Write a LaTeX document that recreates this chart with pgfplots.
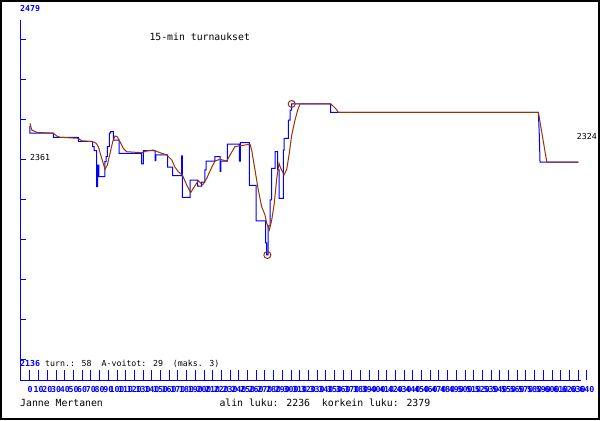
\documentclass[border=0pt]{standalone}
\usepackage{pgfplots}
\pgfplotsset{compat=1.18}
\usepackage{fontspec}
\setmainfont{DejaVu Sans Mono}
\newcommand\bigf{\fontsize{9.85}{11}\selectfont}
\newcommand\smallf{\fontsize{8.3}{9}\selectfont}
\definecolor{brownline}{RGB}{153,51,0}
\begin{document}
\begin{tikzpicture}[x=1bp,y=1bp]
\useasboundingbox (0,0) rectangle (600,420);
\fill[white] (0,0) rectangle (600,420);
\draw[black, line width=2bp] (1,1) rectangle (599,419);
\begin{axis}[
  at={(20bp,40bp)}, anchor=south west,
  scale only axis, width=561bp, height=360bp,
  xmin=-11.49, xmax=633.3, ymin=2117.62, ymax=2458.55,
  axis x line=bottom, axis y line=left,
  axis line style={blue, line width=1bp, -},
  clip=false,
  xtick={0,10,...,630},
  ytick=\empty,
  tick align=inside,
  major tick length=10bp,
  every tick/.style={blue, line width=1bp},
  xticklabel style={/pgf/number format/assume math mode=true, font=\smallf\bfseries, text=blue, anchor=base, inner sep=0pt, yshift=-12.3bp},
]
\addplot[blue, line width=1bp] coordinates {
(0,2358.2) (0,2351.3) (26.8,2351.3) (26.8,2347.5) (55.5,2347.5) (55.5,2343.7) (72.1,2343.7) (72.1,2338.6) (73.6,2338.6) (73.6,2334.8) (76.7,2334.8) (76.7,2300.7) (77.8,2300.7) (77.8,2321.2) (79.3,2321.2) (79.3,2310.2) (86.2,2310.2) (86.2,2324.4) (87.4,2324.4) (87.4,2329.1) (88.9,2329.1) (88.9,2338.6) (91.1,2338.6) (91.1,2351.3) (92.8,2351.3) (92.8,2352.8) (95.7,2352.8) (95.7,2344.9) (102.3,2344.9) (102.3,2332.3) (128.4,2332.3) (128.4,2322.2) (130.2,2322.2) (130.2,2334.8) (143.7,2334.8) (143.7,2325.3) (144.8,2325.3) (144.8,2330.7) (158.3,2330.7) (158.3,2319.1) (164.0,2319.1) (164.0,2311.1) (174.4,2311.1) (174.4,2329.8) (175.1,2329.8) (175.1,2290.6) (183.9,2290.6) (183.9,2307.0) (192.8,2307.0) (192.8,2301.3) (197.4,2301.3) (197.4,2305.1) (201.1,2305.1) (201.1,2316.5) (202.3,2316.5) (202.3,2325.0) (212.6,2325.0) (212.6,2329.1) (218.4,2329.1) (218.4,2314.9) (219.5,2314.9) (219.5,2325.0) (226.8,2325.0) (226.8,2341.1) (240.6,2341.1) (240.6,2325.0) (241.7,2325.0) (241.7,2342.4) (252.1,2342.4) (252.1,2302.0) (259.8,2302.0) (259.8,2268.2) (270.9,2268.2) (270.9,2247.4) (272.1,2247.4) (272.1,2236.0) (273.6,2236.0) (273.6,2263.5) (275.9,2263.5) (275.9,2288.1) (277.8,2288.1) (277.8,2318.1) (281.6,2318.1) (281.6,2333.8) (284.7,2333.8) (284.7,2316.5) (286.2,2316.5) (286.2,2289.7) (291.1,2289.7) (291.1,2335.4) (292.0,2335.4) (292.0,2346.5) (296.9,2346.5) (296.9,2363.8) (298.9,2363.8) (298.9,2373.3) (300.8,2373.3) (300.8,2379) (345.6,2379) (345.6,2371.1) (584.3,2371.1) (585.4,2348.7) (586.2,2324) (630.2,2324)
};
\addplot[brownline, line width=1bp] coordinates {
(0,2360.7) (2.0,2354.4) (7.7,2352.2) (26.8,2351.3) (30.7,2348.7) (34.5,2347.5) (55.5,2346.5) (59.4,2344.2) (72.1,2343.3) (75.9,2341.8) (78.5,2338.6) (82.4,2327.6) (86.2,2317.2) (88.9,2321.2) (92.0,2332.3) (95.1,2343.3) (97.7,2348.7) (100.3,2348.0) (103.4,2343.3) (107.2,2337.0) (111.1,2333.8) (128.4,2332.9) (134.1,2334.5) (141.7,2335.4) (149.4,2332.9) (157.1,2330.7) (162.9,2326.0) (166.7,2319.1) (170.5,2314.9) (175.1,2311.8) (180.1,2302.3) (184.7,2295.0) (187.7,2299.2) (193.4,2306.4) (198.5,2302.3) (203.1,2308.6) (208.9,2319.1) (212.6,2325.0) (218.4,2326.6) (226.1,2325.0) (229.9,2330.7) (235.6,2338.6) (241.4,2339.5) (252.9,2340.8) (254.8,2335.4) (258.6,2316.5) (262.4,2297.6) (266.3,2281.7) (270.1,2273.9) (272.1,2266.0) (275.1,2259.7) (277.8,2269.1) (280.8,2285.0) (283.6,2308.6) (286.2,2322.8) (288.2,2318.1) (292.0,2311.8) (295.1,2317.2) (298.0,2332.3) (300.8,2349.6) (304.6,2363.8) (307.7,2373.3) (310.3,2379) (345.6,2379) (348.3,2377.1) (351.7,2374.3) (354.4,2371.1) (584.3,2371.1) (594.0,2324) (630.2,2324)
};
\addplot[brownline, only marks, mark=o, mark size=3.5bp, mark options={line width=1bp}] coordinates {(272.8,2236) (300.8,2379)};
\draw[blue, line width=1bp] (axis cs:640,2117.62) -- (axis cs:640,2127.09);
\node[font=\smallf\bfseries, text=blue, anchor=base, inner sep=0pt, yshift=-12.3bp] at (axis cs:640,2117.62) {640};
\pgfplotsinvokeforeach{2439.61,2401.73,2363.85,2325.97,2288.09,2250.21,2212.33,2174.45,2136.57}{
  \draw[blue, line width=1bp] (axis cs:-11.49,#1) -- (axis cs:-4.6,#1);
}
\end{axis}
\node[anchor=base west, inner sep=0pt, font=\smallf\bfseries, text=blue] at (20,408.3) {2479};
\node[anchor=base west, inner sep=0pt, font=\bigf] at (149.3,379.3) {15-min turnaukset};
\node[anchor=base west, inner sep=0pt, font=\smallf] at (30,260) {2361};
\node[anchor=base west, inner sep=0pt, font=\smallf] at (576.7,280.7) {2324};
\node[anchor=base west, inner sep=0pt, font=\smallf\bfseries, text=blue] at (20,53.3) {2136};
\node[anchor=base west, inner sep=0pt, font=\smallf] at (45,53.3) {turn.: 58\ \ A-voitot: 29\ \ (maks. 3)};
\node[anchor=base west, inner sep=0pt, font=\bigf] at (20,14) {Janne Mertanen};
\node[anchor=base west, inner sep=0pt, font=\bigf] at (219.3,14) {alin luku: 2236\ \ korkein luku: 2379};
\end{tikzpicture}
\end{document}
